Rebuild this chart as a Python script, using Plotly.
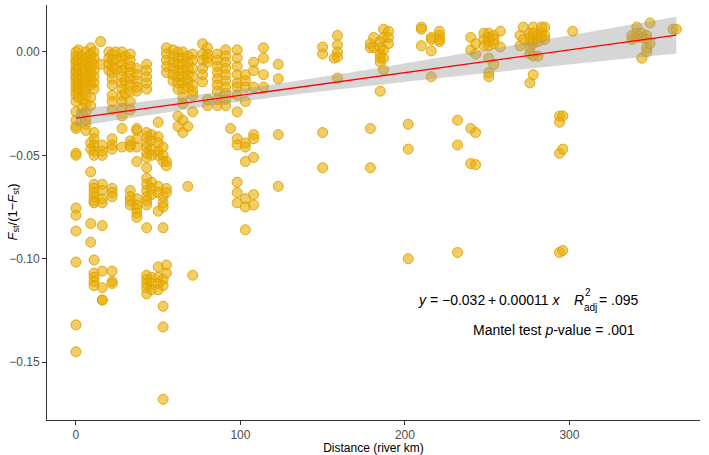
import numpy as np
import plotly.graph_objects as go

# ---------------- data ----------------
# pairwise river distance (km) columns, and Fst/(1-Fst) values at each column
distance_columns_km = [
    0, 1.5, 4, 6, 9, 11, 15, 16, 20, 22, 24, 28, 30, 33, 37, 43, 46, 50, 53, 55,
    59, 62, 65, 68, 71, 77, 80, 86, 91, 94, 98, 103, 108, 114, 123,
    150, 157, 159, 179, 181, 185, 187, 190, 202, 210, 216, 221, 232, 240, 243,
    248, 251, 254, 258, 270, 272, 276, 278, 281, 283, 285, 294, 296, 302,
    338, 341, 344, 347, 349, 363, 365,
]
fst_values_by_column = [
    [0.000, -0.002, -0.004, -0.005, -0.007, -0.009, -0.010, -0.012, -0.013, -0.015, -0.017, -0.019, -0.021,
     -0.024, -0.029, -0.033, -0.036, -0.037, -0.049, -0.050, -0.0755, -0.079, -0.0866, -0.1016, -0.132, -0.145],
    [0.001, -0.003, -0.006, -0.008, -0.011, -0.014, -0.016, -0.018, -0.022],
    [-0.002, -0.005, -0.008, -0.010, -0.013, -0.016, -0.019, -0.023, -0.027, -0.030],
    [0.000, -0.003, -0.006, -0.009, -0.012, -0.015, -0.018, -0.021, -0.025, -0.029, -0.033, -0.035, -0.038],
    [0.002, -0.001, -0.004, -0.007, -0.010, -0.013, -0.016, -0.022, -0.026, -0.044, -0.047, -0.058, -0.083, -0.092],
    [0.000, -0.003, -0.006, -0.009, -0.012, -0.015, -0.018, -0.039, -0.042, -0.045, -0.048, -0.050, -0.064,
     -0.066, -0.068, -0.070, -0.072, -0.073, -0.1006, -0.107, -0.109, -0.111, -0.113],
    [0.005, -0.006],
    [-0.045, -0.048, -0.050, -0.064, -0.067, -0.071, -0.073, -0.084, -0.106, -0.114, -0.120, -0.120],
    [0.000, -0.003, -0.006, -0.009],
    [-0.001, -0.004, -0.007, -0.010, -0.013, -0.016, -0.021, -0.024, -0.028, -0.042, -0.045, -0.047, -0.066,
     -0.068, -0.070, -0.106, -0.111, -0.112],
    [0.000, -0.004, -0.008],
    [0.000, -0.003, -0.006, -0.009, -0.012, -0.015, -0.018, -0.021, -0.024, -0.027, -0.031, -0.037, -0.046],
    [-0.002, -0.008, -0.014, -0.020],
    [-0.001, -0.004, -0.007, -0.010, -0.013, -0.016, -0.019, -0.024, -0.028, -0.043, -0.045, -0.046, -0.067,
     -0.070, -0.072, -0.074],
    [-0.008, -0.011, -0.014, -0.017, -0.019, -0.037, -0.038, -0.042, -0.046, -0.053, -0.071, -0.074, -0.076,
     -0.078, -0.080],
    [-0.006, -0.009, -0.012, -0.015, -0.018, -0.039, -0.041, -0.044, -0.046, -0.049, -0.051, -0.056, -0.061,
     -0.064, -0.067, -0.070, -0.072, -0.074, -0.085, -0.108, -0.110, -0.112, -0.114, -0.117],
    [-0.040, -0.043, -0.047, -0.050, -0.063, -0.066, -0.069, -0.109, -0.112, -0.115],
    [-0.034, -0.041, -0.044, -0.048, -0.050, -0.065, -0.068, -0.077, -0.104, -0.109, -0.112, -0.115],
    [-0.046, -0.050, -0.053, -0.070, -0.073, -0.075, -0.085, -0.110, -0.113, -0.123, -0.133, -0.168],
    [0.002, -0.001, -0.004, -0.007, -0.010, -0.053, -0.055, -0.066, -0.068, -0.103, -0.107],
    [0.001, -0.002, -0.005, -0.008, -0.011, -0.014],
    [0.000, -0.003, -0.006, -0.009, -0.012, -0.015, -0.018, -0.031, -0.036],
    [0.000, -0.003, -0.006, -0.009, -0.012, -0.015, -0.018, -0.022, -0.025, -0.033, -0.039],
    [-0.002, -0.005, -0.008, -0.011, -0.014, -0.017, -0.036, -0.065],
    [-0.001, -0.004, -0.008, -0.012, -0.016, -0.019, -0.021, -0.029, -0.108],
    [0.004, -0.001, -0.004, -0.008, -0.011, -0.0145],
    [0.002, -0.001, -0.003, -0.005, -0.023, -0.026],
    [-0.001, -0.004, -0.007, -0.010, -0.013, -0.016, -0.019, -0.023, -0.026],
    [0.001, -0.002, -0.005, -0.008, -0.011, -0.014, -0.017, -0.020, -0.023, -0.026],
    [-0.037],
    [0.001, -0.003, -0.007, -0.011, -0.015, -0.017, -0.021, -0.029, -0.042, -0.045, -0.063, -0.068, -0.073],
    [-0.011, -0.014, -0.017, -0.024, -0.044, -0.046, -0.053, -0.071, -0.075, -0.086],
    [-0.005, -0.009, -0.017, -0.040, -0.042, -0.051, -0.069, -0.074],
    [0.002, -0.003, -0.011, -0.017],
    [-0.006, -0.013, -0.040, -0.065],
    [0.0024, -0.001, -0.039, -0.056],
    [-0.003],
    [0.008, 0.0034, 0.000, -0.0024, -0.0126],
    [0.004, 0.002, -0.037, -0.056],
    [0.007, 0.002],
    [0.005, 0.002, -0.001, -0.003, -0.005, -0.019],
    [0.011, 0.007, 0.001, -0.003, -0.0087],
    [0.010, 0.007, 0.004],
    [-0.035, -0.047, -0.100],
    [0.012, 0.011, 0.003],
    [0.007, 0.006, 0.0005, -0.012],
    [0.010, 0.008, 0.006, 0.005],
    [-0.033, -0.045, -0.097],
    [0.007, 0.001, -0.037, -0.054],
    [0.004, -0.001, -0.039, -0.0545],
    [0.009, 0.006, 0.003],
    [0.009, 0.007, 0.005, 0.003, -0.003, -0.010, -0.012],
    [0.008, 0.006, 0.004, -0.006],
    [0.010, 0.0024],
    [0.008, 0.003],
    [0.012, 0.006],
    [0.009, 0.007, 0.005, 0.002, -0.001, -0.015],
    [0.012, 0.009, 0.006, 0.004, -0.002, -0.011],
    [0.008, 0.005, -0.002],
    [0.012, 0.009, 0.007],
    [0.012, 0.008, 0.006],
    [-0.031, -0.034, -0.049, -0.097],
    [-0.031, -0.047, -0.096],
    [0.010],
    [0.008, 0.006],
    [0.012, 0.009, 0.007],
    [0.009, 0.007, -0.003],
    [0.008, 0.006, 0.002, 0.000],
    [0.014, 0.004],
    [0.011],
    [0.011],
]

# fitted model reported on the chart
fit_intercept = -0.032
fit_slope = 0.00011
r2_adj_text = ".095"
mantel_p_text = ".001"

x_ticks = [0, 100, 200, 300]
y_ticks = [-0.15, -0.10, -0.05, 0.00]

# ---------------- build points ----------------
dist = []
fst = []
for d, vals in zip(distance_columns_km, fst_values_by_column):
    dist.extend([d] * len(vals))
    fst.extend(vals)
dist = np.array(dist, dtype=float)
fst = np.array(fst, dtype=float)

# linear model line + 95% confidence band (lm standard error)
n = len(dist)
xbar = dist.mean()
sxx = ((dist - xbar) ** 2).sum()
resid = fst - (fit_intercept + fit_slope * dist)
s = np.sqrt((resid ** 2).sum() / (n - 2))
xs = np.linspace(dist.min(), dist.max(), 100)
ys = fit_intercept + fit_slope * xs
hw = 1.96 * s * np.sqrt(1.0 / n + (xs - xbar) ** 2 / sxx)

fig = go.Figure()
fig.add_trace(go.Scatter(
    x=dist, y=fst, mode="markers",
    marker=dict(size=10, color="rgba(232,172,0,0.6)",
                line=dict(color="rgba(222,160,0,0.85)", width=1)),
    hoverinfo="skip", showlegend=False,
))
fig.add_trace(go.Scatter(
    x=np.concatenate([xs, xs[::-1]]),
    y=np.concatenate([ys + hw, (ys - hw)[::-1]]),
    fill="toself", fillcolor="rgba(153,153,153,0.4)",
    line=dict(width=0), mode="lines", hoverinfo="skip", showlegend=False,
))
fig.add_trace(go.Scatter(
    x=xs, y=ys, mode="lines", line=dict(color="#FF0000", width=1.3),
    hoverinfo="skip", showlegend=False,
))

# ---------------- layout ----------------
L, R, T, B = 47, 9, 5, 35
W, H = 709, 455
pw, ph = W - L - R, H - T - B

def px(xp):
    return (xp - L) / pw

def py(yp):
    return (H - B - yp) / ph

FONT = "Liberation Sans, Arial, sans-serif"
font_main = dict(family=FONT, size=14, color="black")
font_small = dict(family=FONT, size=10, color="black")
thin = "\u2009"

annotations = [
    dict(text="<i>y</i> = \u22120.032" + thin + "+" + thin + "0.00011 <i>x</i>", x=px(416), y=py(300),
         xanchor="left", yanchor="middle", font=font_main),
    dict(text="<i>R</i>", x=px(572), y=py(300), xanchor="left", yanchor="middle", font=font_main),
    dict(text="2", x=px(583), y=py(292), xanchor="left", yanchor="middle", font=font_small),
    dict(text="adj", x=px(582), y=py(307), xanchor="left", yanchor="middle", font=font_small),
    dict(text="= " + r2_adj_text, x=px(597), y=py(300), xanchor="left", yanchor="middle", font=font_main),
    dict(text="Mantel test <i>p</i>-value = " + mantel_p_text, x=px(637), y=py(330),
         xanchor="right", yanchor="middle", font=font_main),
    dict(text="<i>F</i><sub>st</sub>/(1\u2212<i>F</i><sub>st</sub>)", x=px(13), y=0.5,
         textangle=-90, xanchor="center", yanchor="middle",
         font=dict(family=FONT, size=13, color="black")),
]
for a in annotations:
    a.update(xref="paper", yref="paper", showarrow=False)

axis_common = dict(
    showgrid=False, zeroline=False, showline=True, linecolor="#333333", linewidth=1,
    ticks="outside", ticklen=4, tickcolor="#333333", tickwidth=1,
    tickfont=dict(family=FONT, size=12, color="#4D4D4D"),
)

fig.update_layout(
    width=W, height=H,
    margin=dict(l=L, r=R, t=T, b=B, autoexpand=False),
    paper_bgcolor="white", plot_bgcolor="white",
    xaxis=dict(range=[-17.6, 379.4], tickvals=x_ticks, **axis_common,
               title=dict(text="Distance (river km)", standoff=3,
                          font=dict(family=FONT, size=12, color="black"))),
    yaxis=dict(range=[-0.178, 0.0227], tickvals=y_ticks, tickformat=".2f", **axis_common),
    annotations=annotations,
)

fig.write_html(
    "out.html",
    config={"displayModeBar": False, "staticPlot": True},
    post_script="document.body.style.margin='0';document.body.style.padding='0';"
                "document.body.style.overflow='hidden';",
)
